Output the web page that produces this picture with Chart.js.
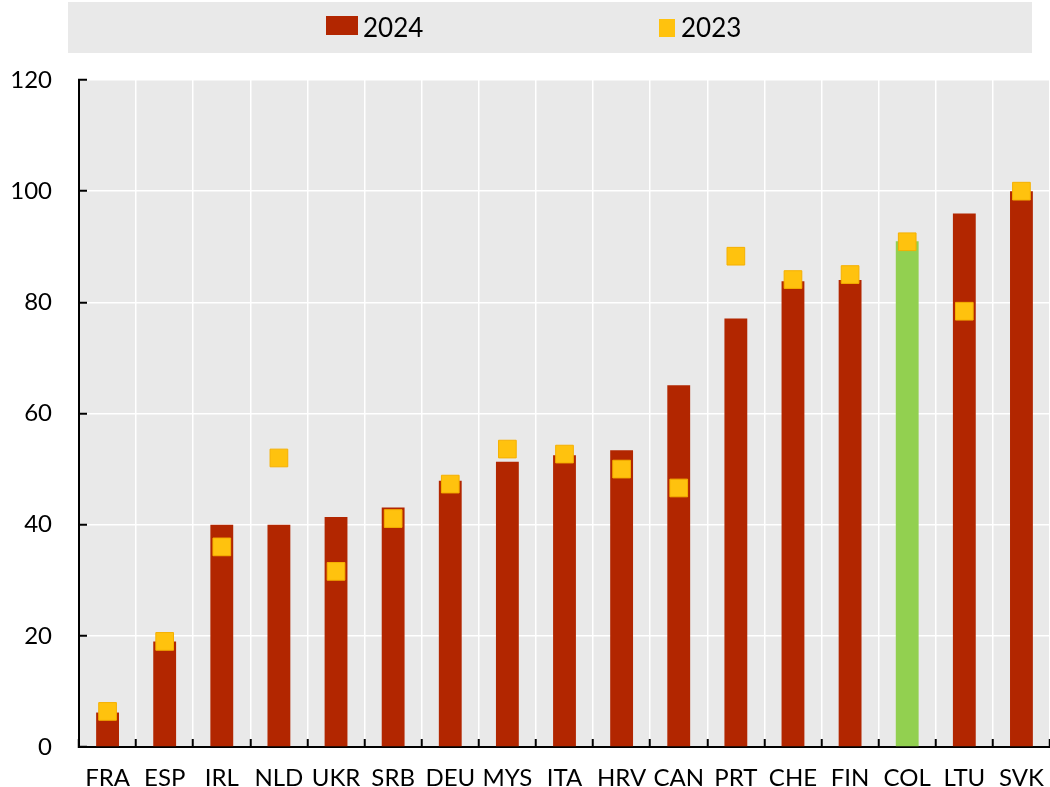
<!DOCTYPE html>
<html>
<head>
<meta charset="utf-8">
<script src="https://cdn.jsdelivr.net/npm/chart.js@4.4.1/dist/chart.umd.min.js"></script>
<style>
  body { margin: 0; background: #ffffff; }
  #wrap { width: 1050px; height: 787px; position: relative; }
</style>
</head>
<body>
<div id="wrap"><canvas id="myChart"></canvas></div>
<script>
// Données
var pays = ['FRA', 'ESP', 'IRL', 'NLD', 'UKR', 'SRB', 'DEU', 'MYS', 'ITA', 'HRV', 'CAN', 'PRT', 'CHE', 'FIN', 'COL', 'LTU', 'SVK'];
var valeurs2024 = [6.2, 19, 40, 40, 41.4, 43.1, 47.9, 51.3, 52.5, 53.4, 65.1, 77.1, 83.8, 84, 91, 96, 100];
var valeurs2023 = [6.4, 19, 36, 52, 31.6, 41.1, 47.3, 53.6, 52.7, 50, 46.6, 88.3, 84.1, 85, 90.9, 78.4, 100];
var yTicks = [0, 20, 40, 60, 80, 100, 120];

var rouge = '#b22600';
var vert = '#92d050';
var jaune = '#ffc20e';

var couleursBarres = pays.map(function(p) {
    return p === 'COL' ? vert : rouge;
});

// Fond gris de la zone du graphique + légende dessinée à la main
var fondPlugin = {
    id: 'fond',
    beforeDraw: function(chart) {
        var ctx = chart.ctx;
        var a = chart.chartArea;
        ctx.save();
        ctx.fillStyle = '#e9e9e9';
        ctx.fillRect(a.left, a.top, a.right - a.left, a.bottom - a.top);
        ctx.restore();
    },
    afterDraw: function(chart) {
        var ctx = chart.ctx;
        var ds = chart.data.datasets;
        ctx.save();
        ctx.fillStyle = '#e9e9e9';
        ctx.fillRect(68, 2, 964, 51);
        ctx.font = '26px Lato';
        ctx.textBaseline = 'middle';
        ctx.fillStyle = rouge;
        ctx.fillRect(326, 16, 32, 19);
        ctx.fillStyle = '#000';
        ctx.fillText(ds[0].label, 363, 29);
        ctx.fillStyle = jaune;
        ctx.fillRect(659, 19, 16, 18);
        ctx.fillStyle = '#000';
        ctx.fillText(ds[1].label, 681, 29);
        ctx.restore();
    }
};

var ctx = document.getElementById('myChart').getContext('2d');
var myChart = new Chart(ctx, {
    type: 'bar',
    data: {
        labels: pays,
        datasets: [{
            label: '2024',
            data: valeurs2024,
            backgroundColor: couleursBarres,
            barPercentage: 0.4,
            categoryPercentage: 1,
            order: 1
        }, {
            type: 'line',
            label: '2023',
            data: valeurs2023,
            showLine: false,
            pointStyle: 'rect',
            pointRadius: 12.5,
            pointBackgroundColor: jaune,
            pointBorderColor: '#f5b000',
            pointBorderWidth: 1,
            order: 0
        }]
    },
    options: {
        responsive: true,
        maintainAspectRatio: false,
        animation: false,
        layout: { autoPadding: false, padding: { top: 80, right: 0, left: 0, bottom: 0 } },
        plugins: {
            legend: { display: false },
            tooltip: { enabled: false }
        },
        scales: {
            x: {
                offset: true,
                grid: {
                    offset: true,
                    color: '#ffffff',
                    lineWidth: 1.5,
                    tickColor: '#000',
                    tickLength: -8,
                    tickWidth: 2
                },
                border: { color: '#000', width: 2 },
                ticks: {
                    color: '#000',
                    font: { family: 'Lato', size: 24 },
                    padding: 25,
                    maxRotation: 0,
                    autoSkip: false
                },
                afterFit: function(scale) {
                    scale.height = 40;
                    scale.paddingLeft = 0;
                    scale.paddingRight = 0;
                }
            },
            y: {
                min: 0,
                max: 120,
                afterBuildTicks: function(scale) {
                    scale.ticks = yTicks.map(function(v) { return { value: v }; });
                },
                grid: {
                    color: '#ffffff',
                    lineWidth: 1.5,
                    tickColor: '#000',
                    tickLength: -8,
                    tickWidth: 2
                },
                border: { color: '#000', width: 2 },
                ticks: {
                    color: '#000',
                    font: { family: 'Lato', size: 24 },
                    padding: 35
                },
                afterFit: function(scale) {
                    scale.width = 79;
                    scale.paddingTop = 0;
                    scale.paddingBottom = 0;
                }
            }
        }
    },
    plugins: [fondPlugin]
});
</script>
</body>
</html>
